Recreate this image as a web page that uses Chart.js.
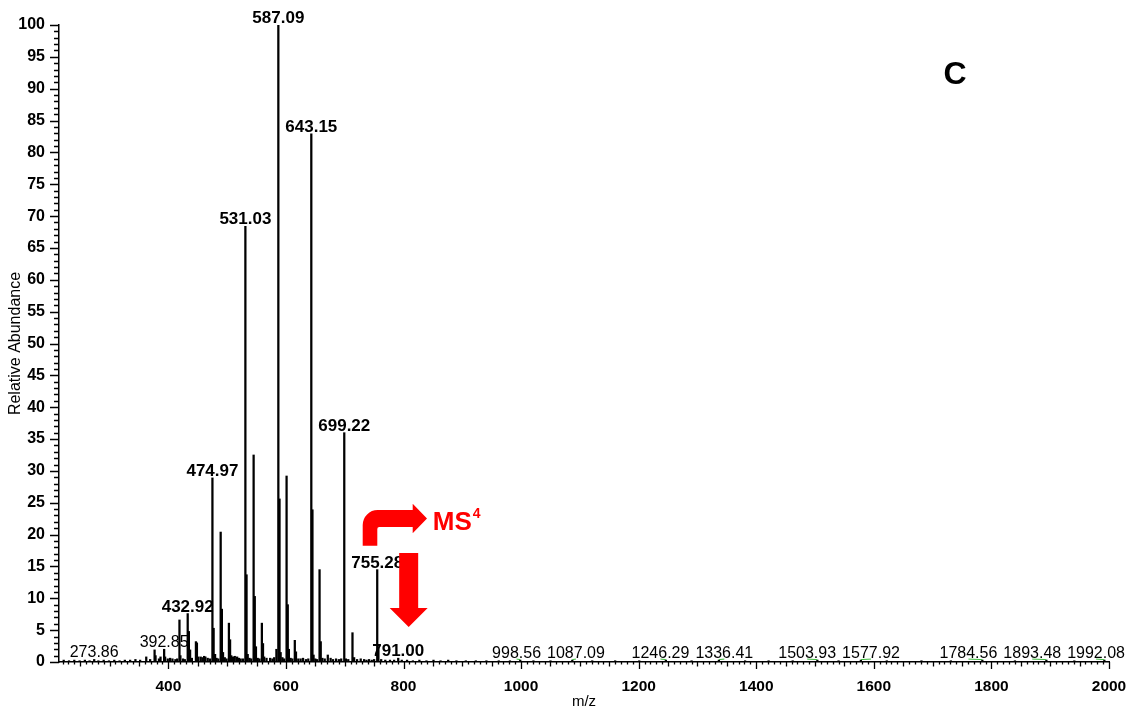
<!DOCTYPE html>
<html>
<head>
<meta charset="utf-8">
<script src="https://cdn.jsdelivr.net/npm/chart.js@4.4.0/dist/chart.umd.min.js"></script>
<style>
  html, body { margin: 0; padding: 0; background: #fff; }
  #wrap { width: 1127px; height: 711px; position: relative; }
</style>
</head>
<body>
<div id="wrap"><canvas id="spectrum" width="1127" height="711"></canvas></div>
<script>
// ---- MS3 spectrum: m/z and relative abundance (%) of each centroid ----
const mzValues = [
  222, 231, 240, 249, 258, 266, 273.86, 281, 290, 299, 308, 317, 326, 335, 344, 352,
  362.4, 369, 376.6, 378.2, 384, 386.7, 392.85, 394.5, 399, 403, 407, 412, 415,
  418.9, 420.5, 425, 428, 432.92, 434.9, 437, 440, 446.9, 448.6, 451, 455, 458, 460.9, 463, 467, 471,
  474.97, 477, 479.5, 482, 485,
  489.0, 491.0, 493, 496, 499,
  503.0, 505.0, 507, 510, 513, 517.0, 520, 523, 527,
  531.03, 533.0, 535, 538, 541,
  545.05, 547.0, 549, 552, 555,
  559.06, 561.0, 563, 567, 573.1, 577, 580,
  583.8, 587.09, 589.1, 591, 594, 597,
  601.1, 603.1, 605, 608, 611,
  615.1, 617.1, 621, 625, 629.1, 634, 638,
  643.15, 645.1, 647, 650, 653,
  657.2, 659.2, 662, 666,
  671.2, 676, 680, 685.2, 690, 694,
  699.22, 702, 706,
  713.2, 716, 721, 727.2, 733, 737, 741.3, 746, 750,
  755.28, 757.3, 762, 769, 777, 784, 791.00, 797, 806, 816, 827, 839, 851, 863, 876, 890,
  906, 923, 941, 962, 981, 998.56, 1021, 1050, 1087.09, 1121, 1160, 1201, 1246.29, 1290,
  1336.41, 1381, 1421, 1462, 1503.93, 1540, 1577.92, 1622, 1681, 1731, 1784.56, 1840,
  1893.48, 1941, 1992.08
];
const abundance = [
  0.3, 0.2, 0.3, 0.2, 0.3, 0.2, 0.4, 0.2, 0.3, 0.2, 0.3, 0.2, 0.3, 0.3, 0.4, 0.3,
  0.8, 0.4, 1.9, 1.0, 0.5, 0.8, 2.0, 0.8, 0.5, 0.6, 0.5, 0.4, 0.5,
  6.6, 1.0, 0.5, 0.4, 7.6, 4.8, 1.9, 0.6, 3.2, 3.0, 0.8, 0.8, 0.7, 0.9, 0.8, 0.6, 0.5,
  28.9, 5.3, 1.2, 0.6, 0.5,
  20.4, 8.3, 1.5, 0.7, 0.5,
  6.1, 3.5, 1.0, 0.8, 0.9, 0.8, 0.6, 0.5, 0.5,
  68.4, 13.7, 1.2, 0.6, 0.5,
  32.5, 10.3, 2.4, 0.6, 0.5,
  6.1, 2.9, 0.8, 0.6, 0.6, 0.5, 0.7,
  2.0, 100, 25.6, 1.5, 0.7, 0.5,
  29.2, 9.0, 2.0, 0.6, 0.5,
  3.4, 1.6, 0.5, 0.5, 0.6, 0.4, 0.5,
  82.9, 23.9, 1.1, 0.5, 0.4,
  14.5, 3.2, 0.6, 0.5,
  1.1, 0.6, 0.4, 0.5, 0.4, 0.5,
  36.0, 0.5, 0.4,
  4.6, 0.7, 0.4, 0.5, 0.4, 0.3, 0.4, 0.3, 0.4,
  14.5, 2.4, 0.4, 0.3, 0.3, 0.3, 0.6, 0.3, 0.3, 0.2, 0.3, 0.2, 0.3, 0.2, 0.3, 0.2,
  0.2, 0.2, 0.2, 0.2, 0.2, 0.3, 0.2, 0.2, 0.3, 0.2, 0.2, 0.2, 0.3, 0.2,
  0.3, 0.2, 0.2, 0.2, 0.3, 0.2, 0.3, 0.2, 0.2, 0.2, 0.3, 0.2,
  0.3, 0.2, 0.3
];

// annotated peaks: bold for the main fragment series, regular for the minor ones
const majorLabelMz = [432.92, 474.97, 531.03, 587.09, 643.15, 699.22, 755.28, 791.00];
const minorLabelMz = [273.86, 392.85, 998.56, 1087.09, 1246.29, 1336.41, 1503.93, 1577.92, 1784.56, 1893.48, 1992.08];

// axis ticks
const xTickValues = [400, 600, 800, 1000, 1200, 1400, 1600, 1800, 2000];
const yTickValues = [0, 5, 10, 15, 20, 25, 30, 35, 40, 45, 50, 55, 60, 65, 70, 75, 80, 85, 90, 95, 100];
const xRange = [214, 2000];
const yRange = [0, 100];

// callouts placed in data space (m/z, abundance)
const panelLetter = { text: 'C', mz: 1738, ab: 90.8 };
const msnText = { main: 'MS', sup: '4', mz: 849.7, ab: 20.7 };
const bentArrowAnchor = { mz: 743.0, ab: 18.26 };   // bottom centre of the stem
const downArrowAnchor = { mz: 808.8, ab: 5.49 };    // arrow tip

const FONT = '"Liberation Sans", Arial, Helvetica, sans-serif';

const points = mzValues.map((m, i) => ({ x: m, y: abundance[i] }));

function abundanceAt(mz) {
  let best = 0;
  for (let i = 1; i < mzValues.length; i++) {
    if (Math.abs(mzValues[i] - mz) < Math.abs(mzValues[best] - mz)) best = i;
  }
  return abundance[best];
}

const spectrumDecor = {
  id: 'spectrumDecor',
  afterDraw(chart) {
    const { ctx, chartArea: a } = chart;
    const x = chart.scales.x, y = chart.scales.y;
    ctx.save();

    // minor / medium / major tick marks
    ctx.strokeStyle = '#000';
    ctx.lineWidth = 1.3;
    ctx.beginPath();
    for (let v = Math.ceil(x.min / 10) * 10; v <= x.max; v += 10) {
      const px = Math.round(x.getPixelForValue(v)) + 0.5;
      const len = v % 200 === 0 ? 7 : (v % 50 === 0 ? 4.5 : 2.5);
      ctx.moveTo(px, a.bottom);
      ctx.lineTo(px, a.bottom + len);
    }
    for (let v = yRange[0]; v <= yRange[1]; v += 1) {
      const py = Math.round(y.getPixelForValue(v)) + 0.5;
      const len = v % 5 === 0 ? 9 : 5;
      ctx.moveTo(a.left, py);
      ctx.lineTo(a.left - len, py);
    }
    ctx.stroke();

    // peak labels
    const items = [];
    majorLabelMz.forEach(m => items.push({ mz: m, bold: true }));
    minorLabelMz.forEach(m => items.push({ mz: m, bold: false }));
    items.sort((p, q) => p.mz - q.mz);
    items.forEach(it => {
      it.text = it.mz.toFixed(2);
      it.font = it.bold ? 'bold 17px ' + FONT : '16px ' + FONT;
      ctx.font = it.font;
      it.w = ctx.measureText(it.text).width;
      it.px = x.getPixelForValue(it.mz);
      it.top = y.getPixelForValue(abundanceAt(it.mz));
      it.base = it.top - 2;
      it.cx = it.px;
    });
    // spread labels that sit on the same row so they do not collide
    const gap = 6, W = chart.width - 2;
    for (let iter = 0; iter < 300; iter++) {
      let moved = false;
      for (let i = 0; i < items.length; i++) {
        for (let j = i + 1; j < items.length; j++) {
          const p = items[i], q = items[j];
          if (Math.abs(p.base - q.base) > 17) continue;
          const need = (p.w + q.w) / 2 + gap - (q.cx - p.cx);
          if (need > 0.01) { p.cx -= need / 2; q.cx += need / 2; moved = true; }
        }
      }
      items.forEach(it => {
        if (it.cx + it.w / 2 > W) { it.cx = W - it.w / 2; }
      });
      if (!moved) break;
    }
    ctx.textAlign = 'center';
    ctx.textBaseline = 'alphabetic';
    items.forEach(it => {
      if (Math.abs(it.cx - it.px) > 3) {
        ctx.strokeStyle = '#3db83d';
        ctx.lineWidth = 1;
        ctx.beginPath();
        ctx.moveTo(it.cx, it.base + 1);
        ctx.lineTo(it.px, it.top - 0.5);
        ctx.stroke();
      }
      ctx.fillStyle = '#000';
      ctx.font = it.font;
      ctx.fillText(it.text, it.cx, it.base);
    });

    // panel letter
    ctx.font = 'bold 32px ' + FONT;
    ctx.fillStyle = '#000';
    ctx.fillText(panelLetter.text, x.getPixelForValue(panelLetter.mz), y.getPixelForValue(panelLetter.ab));

    // red callouts
    ctx.fillStyle = '#ff0000';
    const bx = x.getPixelForValue(bentArrowAnchor.mz), by = y.getPixelForValue(bentArrowAnchor.ab);
    ctx.save();
    ctx.translate(bx, by);
    ctx.beginPath();
    const R = 15, r = 2;
    ctx.moveTo(-7.3, 0);
    ctx.lineTo(-7.3, -35.7 + R);
    ctx.arcTo(-7.3, -35.7, -7.3 + R, -35.7, R);
    ctx.lineTo(42.7, -35.7);
    ctx.lineTo(42.7, -42);
    ctx.lineTo(57, -27.2);
    ctx.lineTo(42.7, -12.4);
    ctx.lineTo(42.7, -18.7);
    ctx.lineTo(7.3 + r, -18.7);
    ctx.arcTo(7.3, -18.7, 7.3, -18.7 + r, r);
    ctx.lineTo(7.3, 0);
    ctx.closePath();
    ctx.fill();
    ctx.restore();

    const dx = x.getPixelForValue(downArrowAnchor.mz), dy = y.getPixelForValue(downArrowAnchor.ab);
    ctx.save();
    ctx.translate(dx, dy);
    ctx.beginPath();
    ctx.moveTo(-9.5, -74);
    ctx.lineTo(9.5, -74);
    ctx.lineTo(9.5, -19);
    ctx.lineTo(19, -19);
    ctx.lineTo(0, 0);
    ctx.lineTo(-19, -19);
    ctx.lineTo(-9.5, -19);
    ctx.closePath();
    ctx.fill();
    ctx.restore();

    const tx = x.getPixelForValue(msnText.mz), ty = y.getPixelForValue(msnText.ab);
    ctx.textAlign = 'left';
    ctx.font = 'bold 26px ' + FONT;
    ctx.fillText(msnText.main, tx, ty);
    const mw = ctx.measureText(msnText.main).width;
    ctx.font = 'bold 14px ' + FONT;
    ctx.fillText(msnText.sup, tx + mw + 1, ty - 12);

    ctx.restore();
  }
};

new Chart(document.getElementById('spectrum'), {
  type: 'bar',
  data: {
    datasets: [{
      data: points,
      backgroundColor: '#000',
      borderWidth: 0,
      barThickness: 1.6,
      grouped: false
    }]
  },
  options: {
    responsive: false,
    animation: false,
    events: [],
    layout: { padding: { top: 25, right: 18, left: 0, bottom: 0 } },
    plugins: { legend: { display: false }, tooltip: { enabled: false } },
    scales: {
      x: {
        type: 'linear',
        offset: false,
        min: xRange[0],
        max: xRange[1],
        grid: { display: false, drawTicks: false },
        border: { display: true, color: '#000', width: 1.5 },
        afterBuildTicks: s => { s.ticks = xTickValues.map(v => ({ value: v })); },
        afterFit: s => { s.height = 49; s.paddingLeft = 0; s.paddingRight = 0; },
        ticks: {
          autoSkip: false, maxRotation: 0, padding: 15, color: '#000',
          font: { family: FONT, size: 15.5, weight: 'bold' },
          callback: v => String(v)
        },
        title: {
          display: true, text: 'm/z', color: '#000',
          font: { family: FONT, size: 15 }, padding: { top: 0, bottom: 0 }
        }
      },
      y: {
        min: yRange[0],
        max: yRange[1],
        grid: { display: false, drawTicks: false },
        border: { display: true, color: '#000', width: 1.5 },
        afterBuildTicks: s => { s.ticks = yTickValues.map(v => ({ value: v })); },
        afterFit: s => { s.width = 59; s.paddingTop = 0; s.paddingBottom = 0; },
        ticks: {
          autoSkip: false, padding: 14, color: '#000',
          font: { family: FONT, size: 16, weight: 'bold' },
          callback: v => String(v)
        },
        title: {
          display: true, text: 'Relative Abundance', color: '#000',
          font: { family: FONT, size: 16 }, padding: { top: 6, bottom: 0 }
        }
      }
    }
  },
  plugins: [spectrumDecor]
});
</script>
</body>
</html>
